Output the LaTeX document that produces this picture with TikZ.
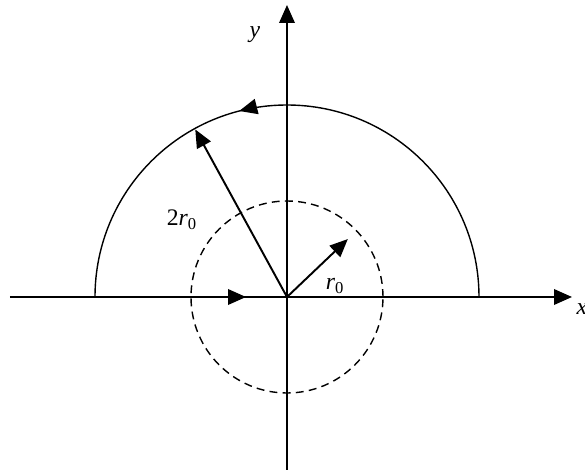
\documentclass[tikz,border=0pt]{standalone}
\usepackage{fontspec}
\setmainfont{Liberation Serif}
\usetikzlibrary{arrows.meta, decorations.markings}

\tikzset{
  axisline/.style={line width=1.1pt, -{Triangle[length=3.6mm,width=3.1mm]}},
  vecline/.style={line width=1.1pt, -{Triangle[length=3.6mm,width=3.1mm]}},
  midarrow/.style={postaction={decorate}, decoration={markings,
    mark=at position #1 with {\arrow{Triangle[length=3.6mm,width=3.1mm]}}}},
  lbl/.style={font=\fontsize{13.5}{15}\selectfont\itshape, inner sep=0pt}
}

\begin{document}
\begin{tikzpicture}[x=0.02cm,y=0.02cm]
\useasboundingbox (-287,-173) rectangle (298,297);
% reference points
\coordinate (O) at (0,0);
\coordinate (xl) at (-277,0);
\coordinate (xr) at (285,0);
\coordinate (yb) at (0,-173);
\coordinate (yt) at (0,292);

% big semicircle (radius 2r0)
\draw[line width=0.8pt, midarrow={0.58}] (192,0) arc[start angle=0, end angle=180, radius=192];
% dashed circle (radius r0)
\draw[line width=0.8pt, dash pattern=on 4.5pt off 3pt] (O) circle[radius=96];

% axes
\draw[axisline, midarrow={0.42}] (xl) -- (xr);
\draw[axisline] (yb) -- (yt);
\node[lbl] (xlab) at (295,-12) {x};
\node[lbl] (ylab) at (-32,262) {y};

% radius vectors
\draw[vecline] (O) -- (118.7:191) coordinate (tip2);
\draw[vecline] (O) -- (43.6:84) coordinate (tip1);
\node[lbl] (lab2) at (-105,77) {{\upshape 2}r\textsubscript{\upshape 0}};
\node[lbl] (lab1) at (48,11) {r\textsubscript{\upshape 0}};
\end{tikzpicture}
\end{document}
